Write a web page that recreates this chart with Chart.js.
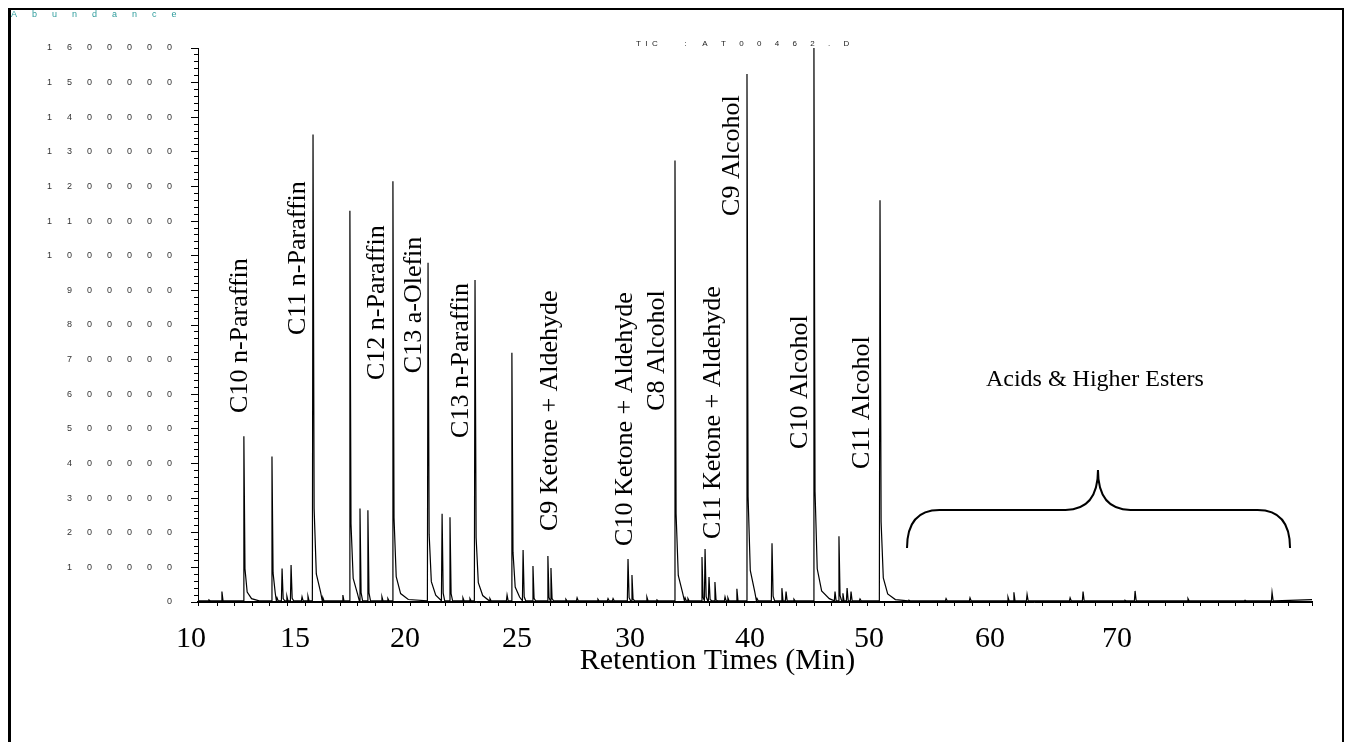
<!DOCTYPE html>
<html lang="en">
<head>
<meta charset="UTF-8">
<title>TIC : AT00462.D</title>
<script src="https://cdn.jsdelivr.net/npm/chart.js"></script>
<style>
    body { margin: 0; background: #fff; }
    #frame { position: relative; width: 1346px; height: 742px; overflow: hidden; }
    #frame::before {
        content: '';
        position: absolute;
        left: 8px; top: 8px; right: 2px; bottom: -10px;
        border-left: 3px solid #000;
        border-top: 2px solid #000;
        border-right: 2px solid #000;
    }
    #tic { position: absolute; left: 0; top: 0; }
</style>
</head>
<body>
<div id="frame">
    <canvas id="tic" width="1346" height="742"></canvas>
</div>
<script>
    // axis range (min)
    const X_MIN = 10.32;
    const X_MAX = 61.07;
    const Y_MAX = 1600000;
    const BASE = 3500;

    // printed time labels and where they sit on the run
    const xTickPositions = [10, 14.74, 19.75, 24.85, 30, 35.47, 40.89, 46.40, 52.19];
    const xTickLabels = ['10', '15', '20', '25', '30', '40', '50', '60', '70'];

    // peak apex times (min) and abundances
    const peakTimes = [
        10.82, 11.41, 12.41, 13.69, 13.92, 14.15, 14.37, 14.56, 15.06, 15.33,
        15.56, 16.01, 16.92, 17.24, 17.70, 18.06, 18.70, 18.97, 19.20, 20.80,
        21.44, 21.80, 22.39, 22.71, 22.94, 23.62, 24.40, 24.62, 25.13, 25.58,
        26.26, 26.40, 27.08, 27.59, 28.54, 29.00, 29.23, 29.91, 30.09, 30.77,
        31.23, 32.05, 32.51, 32.64, 33.28, 33.42, 33.60, 33.87, 34.33, 34.46,
        34.87, 35.33, 35.79, 36.47, 36.92, 37.11, 37.47, 38.38, 39.34, 39.52,
        39.70, 39.89, 40.07, 40.48, 41.39, 42.71, 44.40, 45.49, 47.22, 47.49,
        48.09, 50.05, 50.64, 52.55, 53.01, 55.42, 58.02, 59.25
    ];
    const peakHeights = [
        6000, 30000, 479000, 420000, 12000, 97000, 17000, 107000, 15000, 17000,
        1350000, 12000, 20000, 1130000, 270000, 265000, 15000, 10000, 1215000, 980000,
        255000, 245000, 12000, 10000, 930000, 10000, 20000, 720000, 150000, 104000,
        133000, 98000, 8000, 12000, 8000, 10000, 10000, 124000, 78000, 14000,
        6000, 1275000, 12000, 10000, 130000, 153000, 72000, 58000, 15000, 12000,
        38000, 1525000, 10000, 170000, 40000, 30000, 8000, 1600000, 30000, 190000,
        25000, 40000, 30000, 9000, 1160000, 5000, 10000, 12000, 14000, 28000,
        22000, 12000, 30000, 5000, 32000, 10000, 5000, 28000
    ];
    const endLevel = 7000;

    // compound names, written upward from (time, abundance)
    const noteTexts = [
        'C10 n-Paraffin', 'C11 n-Paraffin', 'C12 n-Paraffin', 'C13 a-Olefin',
        'C13 n-Paraffin', 'C9 Ketone + Aldehyde', 'C10 Ketone + Aldehyde', 'C8 Alcohol',
        'C11 Ketone + Aldehyde', 'C9 Alcohol', 'C10 Alcohol', 'C11 Alcohol'
    ];
    const noteTimes = [12.23, 14.87, 18.47, 20.16, 22.30, 26.36, 29.77, 31.23, 33.78, 34.65, 37.74, 40.57];
    const noteLevels = [546000, 771000, 641000, 661000, 474000, 205000, 162000, 552000, 182000, 1115000, 442000, 384000];

    // late eluting group and its brace
    const groupText = 'Acids & Higher Esters';
    const groupTime = 51.18;
    const groupLevel = 641000;
    const braceTimes = [42.62, 51.32, 60.07];      // left end, point, right end
    const braceLevels = [156000, 266000, 381000];  // ends, bar, point

    // tail shapes after the apex: [minutes after apex, fraction of apex]
    const tailProfile = [[0.05, 0.2], [0.15, 0.06], [0.35, 0.02], [0.7, 0.006]];
    const spikeProfile = [[0.05, 0.1], [0.12, 0]];

    function spread(str, n) {
        return String(str).split('').join(' '.repeat(n));
    }

    function buildTrace() {
        const pts = [{ x: X_MIN, y: BASE }];
        peakTimes.forEach((t, i) => {
            const h = peakHeights[i];
            const limit = i + 1 < peakTimes.length ? peakTimes[i + 1] - 0.03 : X_MAX;
            const profile = h >= 300000 ? tailProfile : spikeProfile;
            pts.push({ x: t - 0.03, y: BASE }, { x: t, y: h });
            profile.forEach(([dt, k]) => {
                if (t + dt < limit) pts.push({ x: t + dt, y: Math.max(BASE, h * k) });
            });
        });
        pts.push({ x: X_MAX, y: endLevel });
        return pts.sort((a, b) => a.x - b.x);
    }

    // header, compound labels and the brace
    const notesPlugin = {
        id: 'peakNotes',
        afterDraw(chart) {
            const { ctx, chartArea } = chart;
            const x = chart.scales.x;
            const y = chart.scales.y;
            ctx.save();

            ctx.font = '9px "Liberation Sans", Arial';
            ctx.textBaseline = 'middle';
            ctx.textAlign = 'left';
            ctx.fillStyle = '#2f9c9c';
            ctx.fillText(spread('Abundance', 6), chartArea.left - 187, 15);
            ctx.font = '8px "Liberation Sans", Arial';
            ctx.fillStyle = '#222';
            const tic = spread('TIC', 2) + ' '.repeat(12) + ':' + ' '.repeat(7) + spread('AT00462.D', 6);
            ctx.fillText(tic, chartArea.left + 438, chartArea.top - 4);

            ctx.fillStyle = '#000';
            ctx.font = '26px "Liberation Serif", "Times New Roman", serif';
            noteTexts.forEach((txt, i) => {
                ctx.save();
                ctx.translate(x.getPixelForValue(noteTimes[i]), y.getPixelForValue(noteLevels[i]));
                ctx.rotate(-Math.PI / 2);
                ctx.textAlign = 'left';
                ctx.fillText(txt, 0, 0);
                ctx.restore();
            });

            ctx.font = '24px "Liberation Serif", "Times New Roman", serif';
            ctx.textAlign = 'center';
            ctx.fillText(groupText, x.getPixelForValue(groupTime), y.getPixelForValue(groupLevel));

            const L = x.getPixelForValue(braceTimes[0]);
            const M = x.getPixelForValue(braceTimes[1]);
            const R = x.getPixelForValue(braceTimes[2]);
            const yEnd = y.getPixelForValue(braceLevels[0]);
            const yBar = y.getPixelForValue(braceLevels[1]);
            const yTip = y.getPixelForValue(braceLevels[2]);
            const r = (M - L) * 0.17;
            ctx.strokeStyle = '#000';
            ctx.lineWidth = 2;
            ctx.beginPath();
            ctx.moveTo(L, yEnd);
            ctx.quadraticCurveTo(L, yBar, L + r, yBar);
            ctx.lineTo(M - r, yBar);
            ctx.quadraticCurveTo(M, yBar, M, yTip);
            ctx.moveTo(R, yEnd);
            ctx.quadraticCurveTo(R, yBar, R - r, yBar);
            ctx.lineTo(M + r, yBar);
            ctx.quadraticCurveTo(M, yBar, M, yTip);
            ctx.stroke();

            ctx.restore();
        }
    };

    const serif = { family: '"Liberation Serif", "Times New Roman", serif', size: 30 };

    new Chart(document.getElementById('tic').getContext('2d'), {
        type: 'line',
        data: {
            datasets: [{
                data: buildTrace(),
                xAxisID: 'x',
                yAxisID: 'y',
                borderColor: '#000',
                borderWidth: 1.2,
                pointRadius: 0,
                tension: 0,
                fill: false
            }]
        },
        options: {
            responsive: false,
            animation: false,
            devicePixelRatio: 1,
            layout: { padding: { left: 0, right: 34, top: 48, bottom: 0 } },
            plugins: {
                legend: { display: false },
                tooltip: { enabled: false }
            },
            scales: {
                x: {
                    type: 'linear',
                    position: 'bottom',
                    min: X_MIN,
                    max: X_MAX,
                    afterBuildTicks: s => { s.ticks = xTickPositions.map(v => ({ value: v })); },
                    afterFit: s => { s.height = 140; },
                    ticks: {
                        autoSkip: false,
                        maxRotation: 0,
                        padding: 19,
                        color: '#000',
                        font: serif,
                        callback: (v, i) => xTickLabels[i]
                    },
                    grid: { display: false, drawTicks: false },
                    border: { display: true, color: '#000', width: 1.3 },
                    title: {
                        display: true,
                        text: 'Retention Times (Min)' + ' '.repeat(10),
                        color: '#000',
                        font: serif,
                        padding: { top: 0, bottom: 63 }
                    }
                },
                xMinor: {
                    type: 'linear',
                    axis: 'x',
                    position: { y: 0 },
                    min: X_MIN,
                    max: X_MAX,
                    ticks: { display: false, stepSize: 0.8 },
                    grid: { drawOnChartArea: false, tickLength: 3, color: '#000' },
                    border: { color: '#000' }
                },
                y: {
                    type: 'linear',
                    position: 'left',
                    min: 0,
                    max: Y_MAX,
                    afterFit: s => { s.width = 198; },
                    ticks: {
                        stepSize: 100000,
                        padding: 19,
                        color: '#333',
                        font: { family: '"Liberation Sans", Arial', size: 9 },
                        callback: v => spread(v, 6)
                    },
                    grid: { drawOnChartArea: false, tickLength: 7, color: '#000' },
                    border: { color: '#000' }
                },
                yMinor: {
                    type: 'linear',
                    axis: 'y',
                    position: { x: X_MIN },
                    min: 0,
                    max: Y_MAX,
                    ticks: { display: false, stepSize: 20000 },
                    grid: { drawOnChartArea: false, tickLength: 4, color: '#000' },
                    border: { color: '#000' }
                }
            }
        },
        plugins: [notesPlugin]
    });
</script>
</body>
</html>
